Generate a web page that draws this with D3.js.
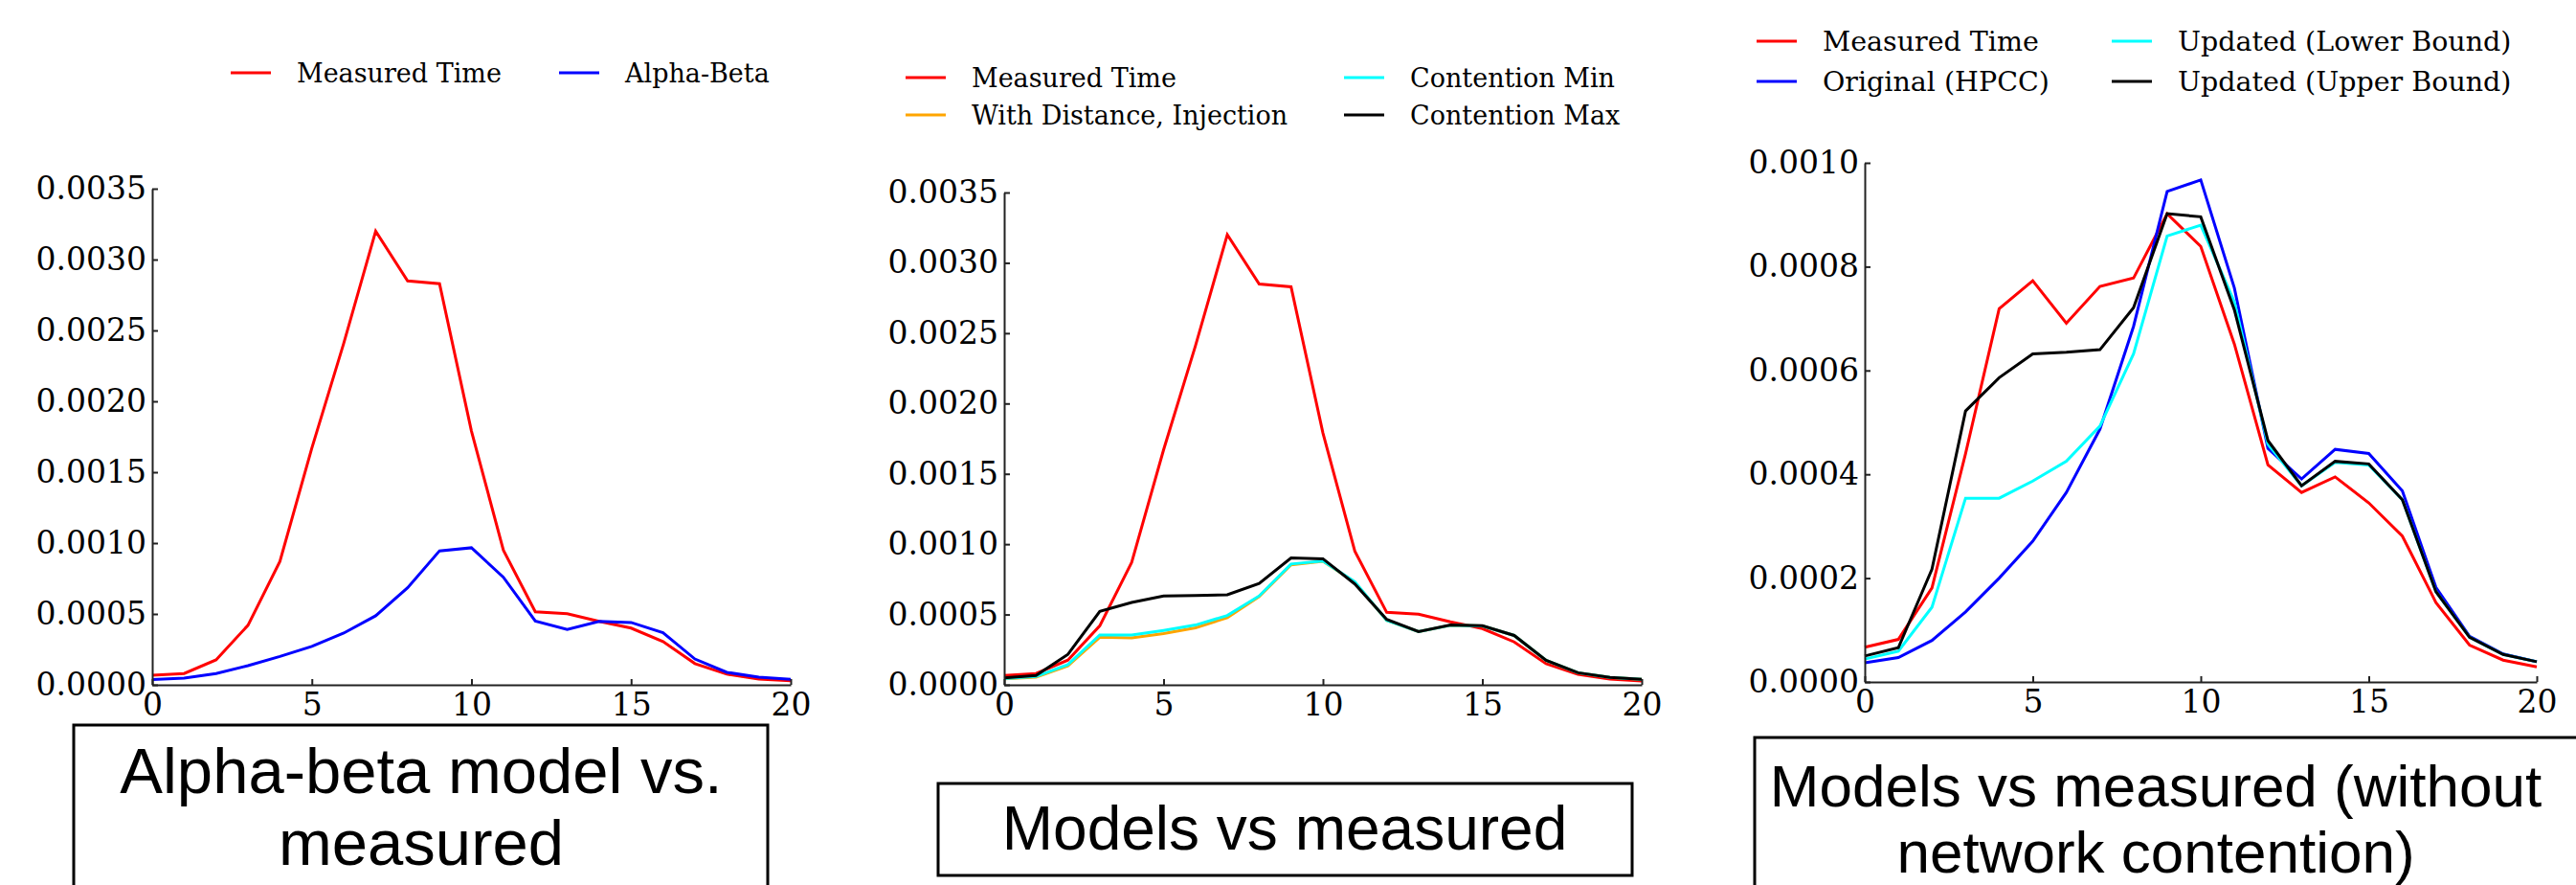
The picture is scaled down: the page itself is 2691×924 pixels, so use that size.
<!DOCTYPE html>
<html>
<head>
<meta charset="utf-8">
<script src="https://cdn.jsdelivr.net/npm/d3@7"></script>
<style>
  body { margin: 0; background: #fff; }
  svg { display: block; }
  .tick text { font-family: "DejaVu Serif", serif; font-size: 33px; fill: #000; }
  .axis path, .axis line { stroke: #222; stroke-width: 2px; }
</style>
</head>
<body>
<script>
// hop distance on the x axis
var hops = [0, 1, 2, 3, 4, 5, 6, 7, 8, 9, 10, 11, 12, 13, 14, 15, 16, 17, 18, 19, 20];

// panel 1 + 2 measured
var measured = [0.000067, 0.00008, 0.000176, 0.00042, 0.00087, 0.00167, 0.00241, 0.0032, 0.00285, 0.00283,
                0.00179, 0.00095, 0.000515, 0.000502, 0.000448, 0.0004, 0.000305, 0.00015, 0.000075, 0.000041, 0.000028];
// alpha-beta / original (HPCC)
var alphaBeta = [0.000037, 0.000047, 0.00008, 0.000135, 0.0002, 0.000271, 0.000365, 0.000487, 0.000685, 0.000945,
                 0.000967, 0.000759, 0.00045, 0.000391, 0.000448, 0.00044, 0.000368, 0.000182, 0.000088, 0.000054, 0.000039];
var withDistance = [0.000042, 0.000055, 0.000135, 0.000338, 0.000333, 0.000365, 0.000405, 0.000477, 0.000628, 0.000853,
                    0.000878, 0.00073, 0.000458, 0.000378, 0.000423, 0.000418, 0.000351, 0.000174, 0.000086, 0.000053, 0.000039];
// contention min = updated (lower bound)
var contentionMin = [0.000044, 0.000059, 0.000144, 0.000354, 0.000354, 0.000387, 0.000425, 0.000493, 0.000632, 0.000859,
                     0.00088, 0.000732, 0.000458, 0.000378, 0.000423, 0.000418, 0.000351, 0.000174, 0.000086, 0.000053, 0.000039];
// contention max = updated (upper bound)
var contentionMax = [0.00005, 0.000066, 0.000217, 0.000522, 0.000586, 0.000632, 0.000635, 0.00064, 0.000721, 0.000902,
                     0.000896, 0.000717, 0.000465, 0.000378, 0.000425, 0.00042, 0.000351, 0.000174, 0.000086, 0.000053, 0.000039];
// panel 3 measured (without network contention)
var measuredNoCont = [0.000067, 0.000082, 0.000181, 0.00044, 0.000719, 0.000773, 0.000691, 0.000762, 0.000778, 0.000902,
                      0.000839, 0.000651, 0.000418, 0.000365, 0.000395, 0.000345, 0.000281, 0.000153, 0.000071, 0.000042, 0.000029];

var xTicks = [0, 5, 10, 15, 20];
var yTicksBig = [0, 0.0005, 0.001, 0.0015, 0.002, 0.0025, 0.003, 0.0035];
var yTicksSmall = [0, 0.0002, 0.0004, 0.0006, 0.0008, 0.001];

var W = 2691, H = 924;
var svg = d3.select("body").append("svg")
    .attr("width", W)
    .attr("height", H);

// each panel: series, axis box, legend
var panels = [
  {
    x0: 159, x1: 826, yTop: 197, yBot: 715, yMax: 0.0035, ticks: yTicksBig, legSize: 27,
    series: [
      {name: "Measured Time", values: measured, color: "#ff0000"},
      {name: "Alpha-Beta", values: alphaBeta, color: "#0000ff"}
    ],
    legend: [
      {i: 0, x: 241, y: 76}, {i: 1, x: 584, y: 76}
    ]
  },
  {
    x0: 1049, x1: 1715, yTop: 201, yBot: 715, yMax: 0.0035, ticks: yTicksBig, legSize: 27,
    series: [
      {name: "Measured Time", values: measured, color: "#ff0000"},
      {name: "With Distance, Injection", values: withDistance, color: "#ffa500"},
      {name: "Contention Min", values: contentionMin, color: "#00ffff"},
      {name: "Contention Max", values: contentionMax, color: "#000000"}
    ],
    legend: [
      {i: 0, x: 946, y: 81}, {i: 1, x: 946, y: 120},
      {i: 2, x: 1404, y: 81}, {i: 3, x: 1404, y: 120}
    ]
  },
  {
    x0: 1948, x1: 2650, yTop: 170, yBot: 712, yMax: 0.001, ticks: yTicksSmall, legSize: 28.5,
    series: [
      {name: "Measured Time", values: measuredNoCont, color: "#ff0000"},
      {name: "Original (HPCC)", values: alphaBeta, color: "#0000ff"},
      {name: "Updated (Lower Bound)", values: contentionMin, color: "#00ffff"},
      {name: "Updated (Upper Bound)", values: contentionMax, color: "#000000"}
    ],
    legend: [
      {i: 0, x: 1835, y: 43}, {i: 1, x: 1835, y: 85},
      {i: 2, x: 2206, y: 43}, {i: 3, x: 2206, y: 85}
    ]
  }
];

panels.forEach(function(p){
    var x = d3.scaleLinear().domain([0, 20]).range([p.x0, p.x1]);
    var y = d3.scaleLinear().domain([0, p.yMax]).range([p.yBot, p.yTop]);

    var line = d3.line()
        .x(function(d, i){ return x(hops[i]); })
        .y(function(d){ return y(d); });

    svg.append("g").selectAll("path")
        .data(p.series)
        .enter()
        .append("path")
        .attr("d", function(s){ return line(s.values); })
        .attr("fill", "none")
        .attr("stroke", function(s){ return s.color; })
        .attr("stroke-width", 3)
        .attr("stroke-linejoin", "miter");

    svg.append("g")
        .attr("class", "axis")
        .attr("transform", "translate(0," + p.yBot + ")")
        .call(d3.axisBottom(x).tickValues(xTicks).tickSizeInner(-6).tickSizeOuter(0).tickPadding(9)
              .tickFormat(d3.format("d")));

    svg.append("g")
        .attr("class", "axis")
        .attr("transform", "translate(" + p.x0 + ",0)")
        .call(d3.axisLeft(y).tickValues(p.ticks).tickSizeInner(-6).tickSizeOuter(0).tickPadding(6)
              .tickFormat(d3.format(".4f")));

    // legend
    var leg = svg.append("g").selectAll("g")
        .data(p.legend)
        .enter()
        .append("g")
        .attr("transform", function(d){ return "translate(" + d.x + "," + d.y + ")"; });
    leg.append("line")
        .attr("x1", 0).attr("x2", 42)
        .attr("stroke", function(d){ return p.series[d.i].color; })
        .attr("stroke-width", 3);
    leg.append("text")
        .attr("x", 69)
        .attr("dy", "0.36em")
        .style("font-family", "DejaVu Serif, serif")
        .style("font-size", p.legSize + "px")
        .text(function(d){ return p.series[d.i].name; });
});

// caption boxes under the charts
var boxes = [
  {x: 77, y: 757, w: 725, h: 200, cx: 440, lines: ["Alpha-beta model vs.", "measured"], base: [828, 903], size: 67},
  {x: 980, y: 818, w: 725, h: 96, cx: 1342, lines: ["Models vs measured"], base: [887], size: 64},
  {x: 1833, y: 770, w: 900, h: 200, cx: 2252, lines: ["Models vs measured (without", "network contention)"], base: [842, 911], size: 62}
];

var bx = svg.append("g").selectAll("g")
    .data(boxes)
    .enter()
    .append("g");
bx.append("rect")
    .attr("x", function(d){ return d.x; })
    .attr("y", function(d){ return d.y; })
    .attr("width", function(d){ return d.w; })
    .attr("height", function(d){ return d.h; })
    .attr("fill", "none")
    .attr("stroke", "#000")
    .attr("stroke-width", 3);
bx.each(function(d){
    d3.select(this).selectAll("text")
        .data(d.lines)
        .enter()
        .append("text")
        .attr("x", d.cx)
        .attr("y", function(t, i){ return d.base[i]; })
        .attr("text-anchor", "middle")
        .style("font-family", "Liberation Sans, Arial, sans-serif")
        .style("font-size", d.size + "px")
        .text(function(t){ return t; });
});
</script>
</body>
</html>
